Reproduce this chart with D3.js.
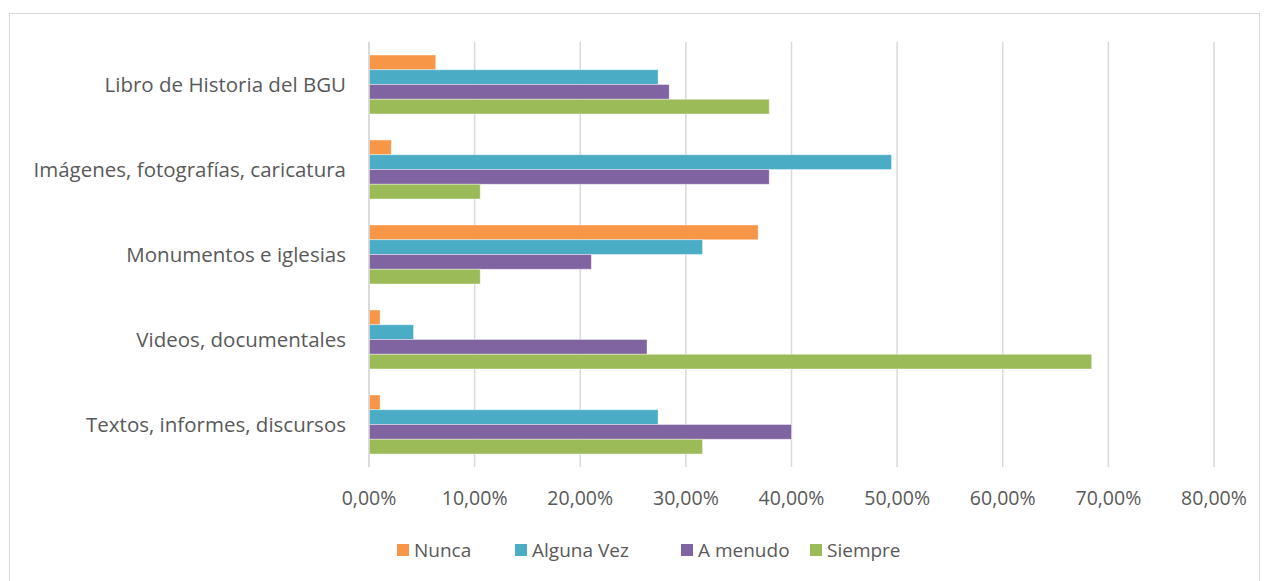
<!DOCTYPE html>
<html>
<head>
<meta charset="utf-8">
<script src="https://cdnjs.cloudflare.com/ajax/libs/d3/7.8.5/d3.min.js"></script>
<style>
  body { margin: 0; background: #fff; }
  text { font-family: "Open Sans", Lato, sans-serif; fill: #595959; }
</style>
</head>
<body>
<svg id="chart" width="1269" height="581"></svg>
<script>
const categories = [
  'Libro de Historia del BGU',
  'Imágenes, fotografías, caricatura',
  'Monumentos e iglesias',
  'Videos, documentales',
  'Textos, informes, discursos'
]
const seriesNames = ['Nunca', 'Alguna Vez', 'A menudo', 'Siempre']
const nunca     = [6.32, 2.11, 36.84, 1.05, 1.05]
const algunaVez = [27.37, 49.47, 31.58, 4.21, 27.37]
const aMenudo   = [28.42, 37.89, 21.05, 26.32, 40.00]
const siempre   = [37.89, 10.53, 10.53, 68.42, 31.58]
const xTicks = [0, 10, 20, 30, 40, 50, 60, 70, 80]
const colors = ['#F79646', '#4BACC6', '#8064A2', '#9BBB59']

const seriesValues = [nunca, algunaVez, aMenudo, siempre]
const rows = categories.map((c, i) => ({
  cat: c,
  vals: seriesNames.map((s, j) => ({ key: s, value: seriesValues[j][i] }))
}))

const svg = d3.select('#chart')

// outer frame
svg.append('rect')
  .attr('x', 9.5).attr('y', 13.5)
  .attr('width', 1250).attr('height', 600)
  .attr('fill', 'none').attr('stroke', '#D9D9D9').attr('stroke-width', 1)

const plotLeft = 369, plotRight = 1214, plotTop = 42, plotBottom = 467

const x = d3.scaleLinear().domain([0, 80]).range([plotLeft, plotRight])
const y = d3.scaleBand().domain(categories).range([plotTop, plotBottom]).paddingInner(0.306).paddingOuter(0.153)
const yInner = d3.scaleBand().domain(seriesNames).range([0, y.bandwidth()])

// gridlines
svg.append('g').selectAll('line')
  .data(xTicks)
  .enter().append('line')
  .attr('x1', d => x(d)).attr('x2', d => x(d))
  .attr('y1', plotTop).attr('y2', plotBottom)
  .attr('stroke', '#D9D9D9').attr('stroke-width', 1.5)

// bars
const groups = svg.append('g').selectAll('g')
  .data(rows)
  .enter().append('g')
  .attr('transform', d => `translate(0, ${y(d.cat)})`)

groups.selectAll('rect')
  .data(d => d.vals)
  .enter().append('rect')
  .attr('x', x(0))
  .attr('y', d => yInner(d.key))
  .attr('width', d => x(d.value) - x(0))
  .attr('height', yInner.bandwidth())
  .attr('fill', (d, i) => colors[i])
  .attr('stroke', '#fff').attr('stroke-opacity', 0.5).attr('stroke-width', 0.8)

// axis line
svg.append('line')
  .attr('x1', plotLeft).attr('x2', plotLeft)
  .attr('y1', plotTop).attr('y2', plotBottom)
  .attr('stroke', '#D9D9D9').attr('stroke-width', 1.5)

// category labels
svg.append('g').selectAll('text')
  .data(categories)
  .enter().append('text')
  .attr('x', 346)
  .attr('y', d => y(d) + y.bandwidth() / 2)
  .attr('dy', '0.35em')
  .attr('text-anchor', 'end')
  .style('font-size', '20.5px')
  .text(d => d)

// x tick labels
svg.append('g').selectAll('text')
  .data(xTicks)
  .enter().append('text')
  .attr('x', d => x(d))
  .attr('y', 498)
  .attr('dy', '0.35em')
  .attr('text-anchor', 'middle')
  .style('font-size', '19.5px')
  .text(d => d.toFixed(2).replace('.', ',') + '%')

// legend
const legendX = [397, 515, 681, 810]
const legend = svg.append('g').selectAll('g')
  .data(seriesNames)
  .enter().append('g')
  .attr('transform', (d, i) => `translate(${legendX[i]}, 550)`)

legend.append('rect')
  .attr('x', 0).attr('y', -6)
  .attr('width', 12).attr('height', 12)
  .attr('fill', (d, i) => colors[i])

legend.append('text')
  .attr('x', 17).attr('y', 0)
  .attr('dy', '0.35em')
  .style('font-size', '19px')
  .text(d => d)
</script>
</body>
</html>
